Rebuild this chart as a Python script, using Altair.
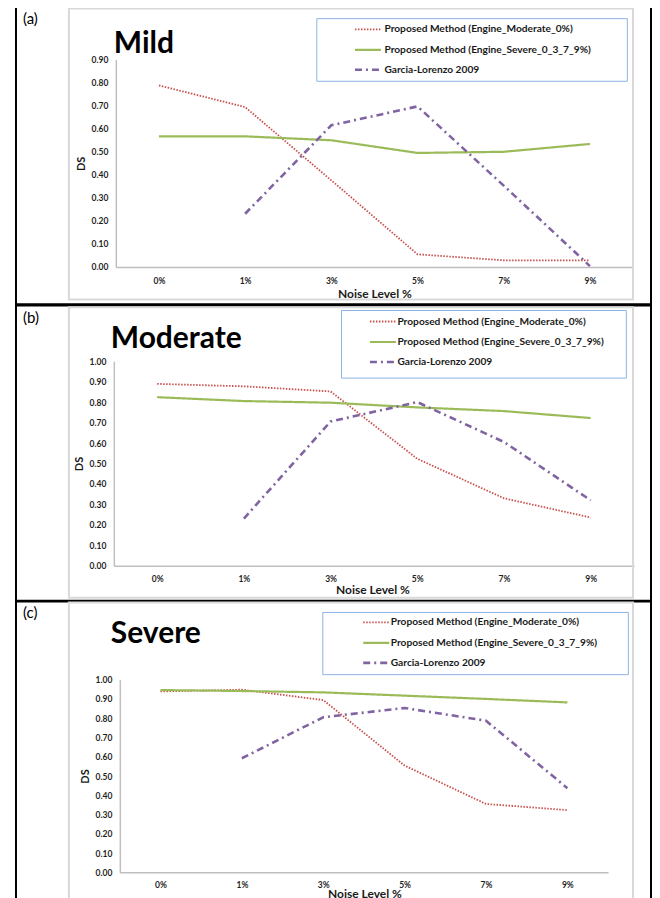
import altair as alt
import pandas as pd

# ---------------- data ----------------
levels = ["0%", "1%", "3%", "5%", "7%", "9%"]
series_names = [
    "Proposed Method (Engine_Moderate_0%)",
    "Proposed Method (Engine_Severe_0_3_7_9%)",
    "Garcia-Lorenzo 2009",
]
panel_labels = ["(a)", "(b)", "(c)"]
panel_titles = ["Mild", "Moderate", "Severe"]

mild_moderate = [0.788, 0.694, 0.376, 0.055, 0.029, 0.029]
mild_severe = [0.567, 0.567, 0.550, 0.495, 0.500, 0.534]
mild_garcia = [None, 0.231, 0.615, 0.697, 0.353, 0.004]

moderate_moderate = [0.889, 0.877, 0.852, 0.523, 0.330, 0.236]
moderate_severe = [0.824, 0.805, 0.797, 0.774, 0.756, 0.722]
moderate_garcia = [None, 0.231, 0.705, 0.800, 0.605, 0.320]

severe_moderate = [0.939, 0.948, 0.894, 0.554, 0.355, 0.323]
severe_severe = [0.946, 0.941, 0.934, 0.917, 0.900, 0.882]
severe_garcia = [None, 0.592, 0.805, 0.853, 0.787, 0.437]

y_ticks_mild = [0.0, 0.1, 0.2, 0.3, 0.4, 0.5, 0.6, 0.7, 0.8, 0.9]
y_ticks_other = [0.0, 0.1, 0.2, 0.3, 0.4, 0.5, 0.6, 0.7, 0.8, 0.9, 1.0]

# ---------------- styles / layout ----------------
series_colors = ["#c8504d", "#9bbb59", "#8064a2"]
series_dashes = [[1.5, 1.5], [1, 0], [7, 4, 2, 4]]
series_widths = [1.8, 2.6, 2.2]
FONT = "Lato"
VIEW_W = 521

layouts = [
    dict(H=207.7, ymax=0.9, ticks=y_ticks_mild, xrange=[2, 520], yoff=-2,
         black=(-98, -52.6, 538, 245), grey=(-45, -51.3, 520, 240.2),
         legbox=(203.3, -41, 514.3, 21.7), legxy=(240, -44.3), rowpad=-7.2, laboff=2,
         lab=(-91, -35.8), title=(0, -6.6), xlp=9.6, xty=26.4, xtx=261),
    dict(H=205, ymax=1.0, ticks=y_ticks_other, xrange=[0, 521], yoff=0,
         black=(-98, -55.7, 538, 240), grey=(-45, -54, 520, 237),
         legbox=(228, -50.7, 513.3, 17), legxy=(255, -53.7), rowpad=-5.7, laboff=0,
         lab=(-91, -38), title=(-3, -13.3), xlp=9, xty=23.3, xtx=259),
    dict(H=193, ymax=1.0, ticks=y_ticks_other, xrange=[6, 495], yoff=-6,
         black=(-98, -78.3, 538, 227.7), grey=(-45, -77.3, 520, 227.7),
         legbox=(209.3, -67.3, 515.3, -5), legxy=(248.3, -71.3), rowpad=-7.15, laboff=0,
         lab=(-91, -61.3), title=(-3, -36.3), xlp=8.3, xty=20.7, xtx=251),
]

panel_values = [
    [mild_moderate, mild_severe, mild_garcia],
    [moderate_moderate, moderate_severe, moderate_garcia],
    [severe_moderate, severe_severe, severe_garcia],
]

one = pd.DataFrame({"k": [0]})


def box(b, color, sw):
    x1, y1, x2, y2 = b
    return alt.Chart(one).mark_rect(fillOpacity=0, stroke=color, strokeWidth=sw).encode(
        x=alt.value(x1), x2=alt.value(x2), y=alt.value(y1), y2=alt.value(y2)
    )


def make_panel(i):
    L = layouts[i]
    rows = []
    for s, vals in zip(series_names, panel_values[i]):
        for lv, v in zip(levels, vals):
            if v is not None:
                rows.append({"level": lv, "series": s, "value": v})
    df = pd.DataFrame(rows)

    leg = alt.Legend(
        title=None, orient="none", legendX=L["legxy"][0], legendY=L["legxy"][1],
        symbolType="stroke", symbolSize=676, rowPadding=L["rowpad"],
        labelOffset=L["laboff"], padding=0, labelFont=FONT, labelFontSize=10.2,
        labelFontWeight="bold", labelColor="#1a1a1a", labelLimit=500,
    )

    lines = alt.Chart(df).mark_line().encode(
        x=alt.X(
            "level:N", sort=levels,
            scale=alt.Scale(type="point", domain=levels, padding=0.5, range=L["xrange"]),
            axis=alt.Axis(
                title="Noise Level %", labelAngle=0, ticks=False, grid=False,
                domainColor="#bfbfbf", domainWidth=1.5, labelPadding=L["xlp"],
                titleX=L["xtx"], titleY=L["xty"], titleBaseline="middle", titleAlign="center",
                labelFontSize=8.5, labelFontWeight="bold", titleFontSize=12,
                titleFontWeight="bold", labelColor="#1f1f1f", titleColor="#1a1a1a",
                labelFont=FONT, titleFont=FONT,
            ),
        ),
        y=alt.Y(
            "value:Q",
            scale=alt.Scale(domain=[0, L["ymax"]], nice=False, zero=True),
            axis=alt.Axis(
                title="DS", values=L["ticks"], format=".2f", ticks=False, grid=False,
                offset=L["yoff"], domainColor="#bfbfbf", domainWidth=1.5, labelPadding=8,
                titleX=-34, titleY=L["H"] / 2, titleBaseline="middle",
                labelFontSize=8.5, labelFontWeight="bold", titleFontSize=11,
                titleFontWeight="bold", labelColor="#1f1f1f", titleColor="#1a1a1a",
                labelFont=FONT, titleFont=FONT,
            ),
        ),
        color=alt.Color("series:N", scale=alt.Scale(domain=series_names, range=series_colors), legend=leg),
        strokeDash=alt.StrokeDash("series:N", scale=alt.Scale(domain=series_names, range=series_dashes), legend=leg),
        strokeWidth=alt.StrokeWidth("series:N", scale=alt.Scale(domain=series_names, range=series_widths), legend=leg),
    )

    lab = alt.Chart(one).mark_text(
        text=panel_labels[i], font=FONT, fontSize=15, align="left", baseline="alphabetic", color="black"
    ).encode(x=alt.value(L["lab"][0]), y=alt.value(L["lab"][1]))

    ttl = alt.Chart(one).mark_text(
        text=panel_titles[i], font=FONT, fontSize=30, fontWeight="bold", align="left",
        baseline="alphabetic", color="black"
    ).encode(x=alt.value(L["title"][0]), y=alt.value(L["title"][1]))

    return alt.layer(
        box(L["black"], "black", 2),
        box(L["grey"], "#d9d9d9", 2),
        box(L["legbox"], "#8db3e2", 1),
        lines, lab, ttl,
    ).properties(width=VIEW_W, height=L["H"])


chart = alt.vconcat(
    make_panel(0), make_panel(1), make_panel(2), spacing=-2
).resolve_scale(
    x="independent", y="independent", color="independent",
    strokeDash="independent", strokeWidth="independent",
).properties(
    padding={"left": 7, "top": -3, "right": 0, "bottom": 0},
    background="white",
).configure_view(strokeWidth=0)

chart.save("out.html", embed_options={"renderer": "svg", "actions": False})
